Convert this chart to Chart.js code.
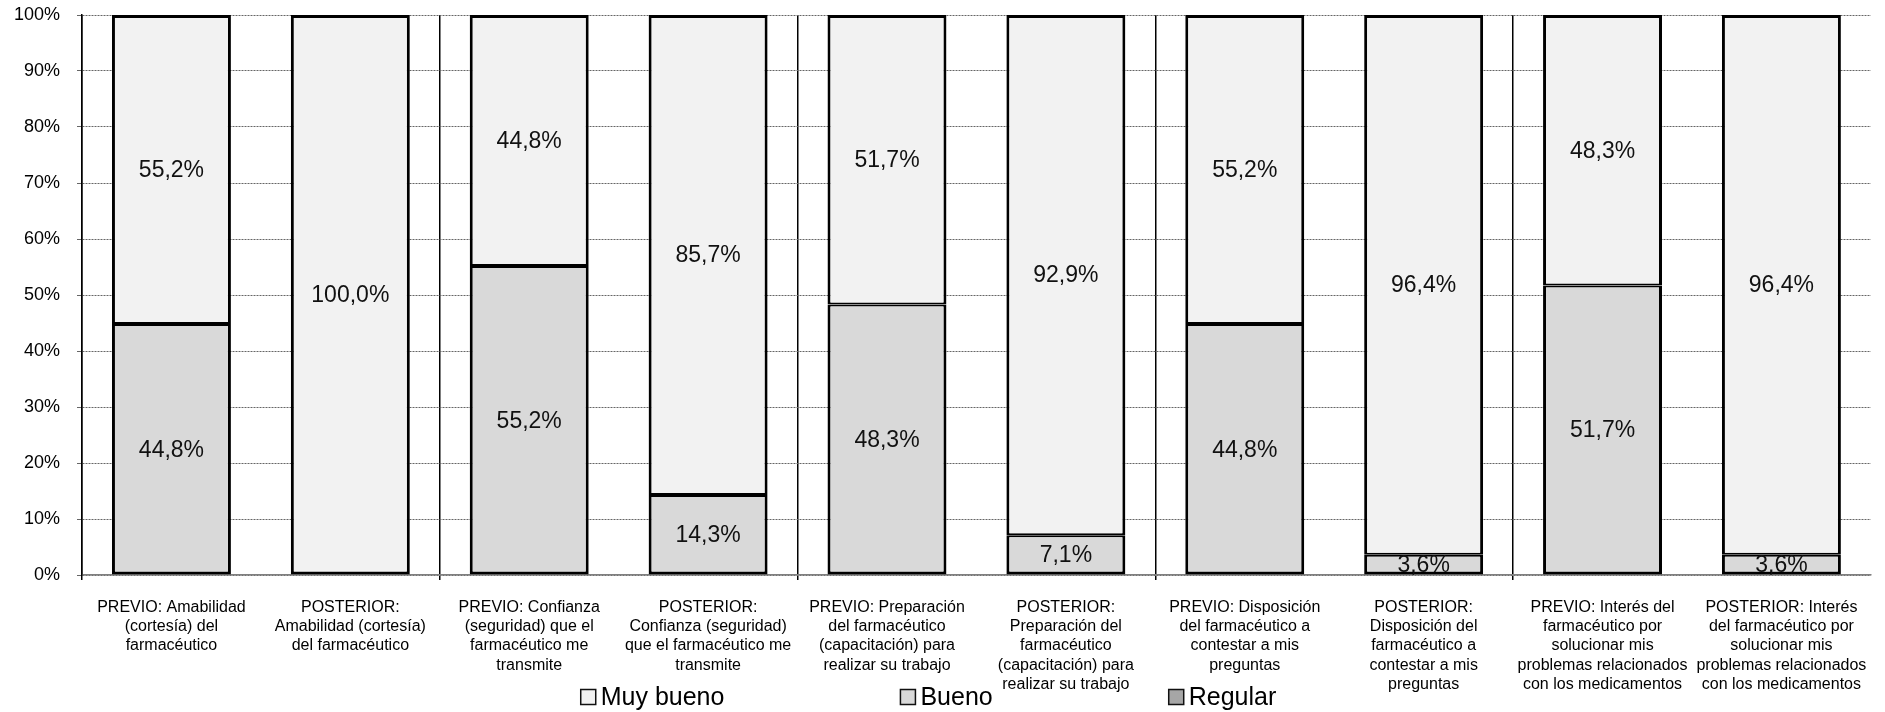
<!DOCTYPE html>
<html>
<head>
<meta charset="utf-8">
<script src="https://cdn.jsdelivr.net/npm/chart.js@4"></script>
<style>
  body { margin: 0; background: #fff; }
  #wrap { width: 1885px; height: 712px; }
</style>
</head>
<body>
<div id="wrap"><canvas id="myChart"></canvas></div>
<script>
var categories = [
    ['PREVIO: Amabilidad', '(cortesía) del', 'farmacéutico'],
    ['POSTERIOR:', 'Amabilidad (cortesía)', 'del farmacéutico'],
    ['PREVIO: Confianza', '(seguridad) que el', 'farmacéutico me', 'transmite'],
    ['POSTERIOR:', 'Confianza (seguridad)', 'que el farmacéutico me', 'transmite'],
    ['PREVIO: Preparación', 'del farmacéutico', '(capacitación) para', 'realizar su trabajo'],
    ['POSTERIOR:', 'Preparación del', 'farmacéutico', '(capacitación) para', 'realizar su trabajo'],
    ['PREVIO: Disposición', 'del farmacéutico a', 'contestar a mis', 'preguntas'],
    ['POSTERIOR:', 'Disposición del', 'farmacéutico a', 'contestar a mis', 'preguntas'],
    ['PREVIO: Interés del', 'farmacéutico por', 'solucionar mis', 'problemas relacionados', 'con los medicamentos'],
    ['POSTERIOR: Interés', 'del farmacéutico por', 'solucionar mis', 'problemas relacionados', 'con los medicamentos']
];

var regular  = [0, 0, 0, 0, 0, 0, 0, 0, 0, 0];
var bueno    = [44.8, 0, 55.2, 14.3, 48.3, 7.1, 44.8, 3.6, 51.7, 3.6];
var muyBueno = [55.2, 100, 44.8, 85.7, 51.7, 92.9, 55.2, 96.4, 48.3, 96.4];

var yTicks = [0, 10, 20, 30, 40, 50, 60, 70, 80, 90, 100];

var FONT = "'Liberation Sans', Arial, sans-serif";

// thinner top/bottom edges where two segments touch, so the joint is not doubled
function borderFor(side) {
    return function (c) {
        var i = c.dataIndex;
        var w = {left: 3, right: 3, top: 3, bottom: 3};
        if (side === 'low' && muyBueno[i] > 0) w.top = 2;
        if (side === 'high' && bueno[i] > 0) w.bottom = 2;
        var v = c.dataset.data[i];
        if (!v) return 0;
        return w;
    };
}

var valueLabels = {
    id: 'valueLabels',
    afterDatasetsDraw: function (chart) {
        var c = chart.ctx;
        c.save();
        c.font = '23px ' + FONT;
        c.fillStyle = '#111';
        c.textAlign = 'center';
        c.textBaseline = 'middle';
        chart.data.datasets.forEach(function (ds, di) {
            var meta = chart.getDatasetMeta(di);
            meta.data.forEach(function (bar, i) {
                var v = ds.data[i];
                if (!v) return;
                var txt = v.toFixed(1).replace('.', ',') + '%';
                c.fillText(txt, bar.x, (bar.y + bar.base) / 2 + 1);
            });
        });
        c.restore();
    }
};

// legend row below the axis labels
var bottomLegend = {
    id: 'bottomLegend',
    afterDraw: function (chart) {
        var c = chart.ctx;
        var order = [2, 1, 0];
        var box = 15, gap = 5, spacing = 176;
        c.save();
        c.font = '25px ' + FONT;
        var widths = order.map(function (di) {
            return box + gap + c.measureText(chart.data.datasets[di].label).width;
        });
        var total = widths.reduce(function (a, b) { return a + b; }, 0) + spacing * (order.length - 1);
        var x = chart.width / 2 - 14 - total / 2;
        var y = 697;
        order.forEach(function (di, k) {
            var ds = chart.data.datasets[di];
            c.fillStyle = ds.backgroundColor;
            c.fillRect(x, y - box / 2, box, box);
            c.lineWidth = 1.5;
            c.strokeStyle = '#111';
            c.strokeRect(x, y - box / 2, box, box);
            c.fillStyle = '#000';
            c.textBaseline = 'middle';
            c.textAlign = 'left';
            c.fillText(ds.label, x + box + gap, y + 1);
            x += widths[k] + spacing;
        });
        c.restore();
    }
};

var ctx = document.getElementById('myChart').getContext('2d');
var chart = new Chart(ctx, {
    type: 'bar',
    data: {
        labels: categories,
        datasets: [{
            label: 'Regular',
            data: regular,
            backgroundColor: '#a6a6a6',
            borderColor: '#000',
            borderWidth: 0,
            borderSkipped: false
        }, {
            label: 'Bueno',
            data: bueno,
            backgroundColor: '#d9d9d9',
            borderColor: '#000',
            borderWidth: borderFor('low'),
            borderSkipped: false
        }, {
            label: 'Muy bueno',
            data: muyBueno,
            backgroundColor: '#f2f2f2',
            borderColor: '#000',
            borderWidth: borderFor('high'),
            borderSkipped: false
        }]
    },
    options: {
        responsive: true,
        maintainAspectRatio: false,
        animation: false,
        devicePixelRatio: 1,
        layout: { padding: { top: 0, right: 13, left: 0, bottom: 0 } },
        datasets: {
            bar: { barPercentage: 1, categoryPercentage: 0.665 }
        },
        plugins: {
            legend: { display: false },
            tooltip: { enabled: false }
        },
        scales: {
            x: {
                stacked: true,
                afterFit: function (s) { s.height = 137; },
                grid: {
                    offset: true,
                    color: function (c) { return c.index % 2 === 0 ? '#000' : 'rgba(0,0,0,0)'; },
                    lineWidth: 1.5,
                    tickLength: 5
                },
                border: { display: true, color: '#808080', width: 1.5 },
                ticks: {
                    color: '#000',
                    padding: 18,
                    maxRotation: 0,
                    autoSkip: false,
                    font: { family: FONT, size: 16, lineHeight: 1.2 }
                }
            },
            y: {
                stacked: true,
                min: 0,
                max: 100,
                afterFit: function (s) {
                    s.width = 82;
                    s.paddingTop = 15;
                    s.paddingBottom = 11;
                },
                afterBuildTicks: function (s) {
                    s.ticks = yTicks.map(function (v) { return {value: v}; });
                },
                grid: {
                    color: '#666',
                    lineWidth: 1,
                    tickLength: 5,
                    tickColor: '#666'
                },
                border: { display: true, color: '#000', width: 1.5, dash: [2, 1] },
                ticks: {
                    color: '#000',
                    padding: 17,
                    font: { family: FONT, size: 18 },
                    callback: function (v) { return v + '%'; }
                }
            }
        }
    },
    plugins: [valueLabels, bottomLegend]
});
</script>
</body>
</html>
